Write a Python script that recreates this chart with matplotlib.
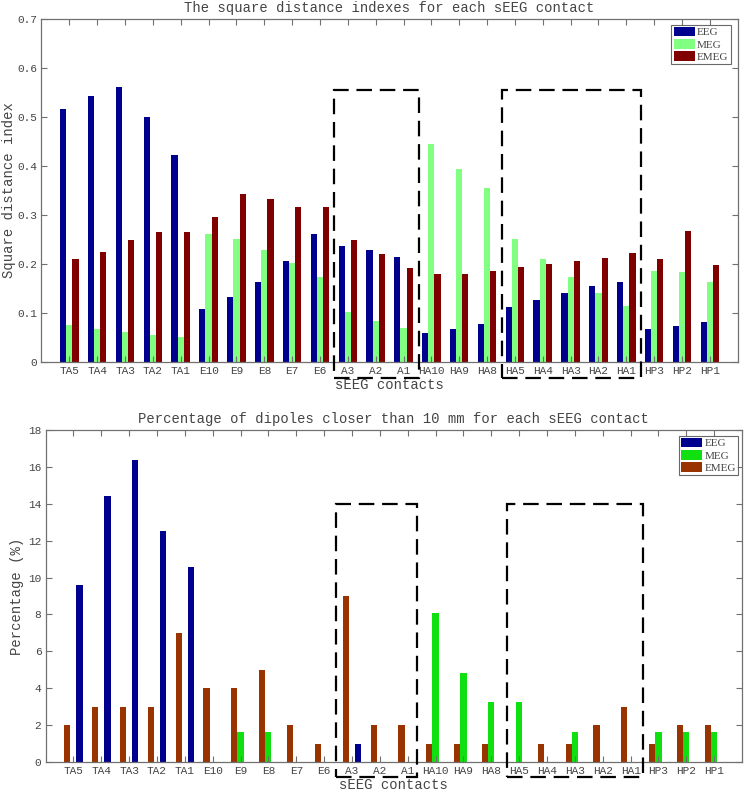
import matplotlib
matplotlib.use("Agg")
import matplotlib.pyplot as plt
from matplotlib.patches import Rectangle, Patch
import numpy as np

contacts = ["TA5", "TA4", "TA3", "TA2", "TA1", "E10", "E9", "E8", "E7", "E6",
            "A3", "A2", "A1", "HA10", "HA9", "HA8", "HA5", "HA4", "HA3", "HA2",
            "HA1", "HP3", "HP2", "HP1"]

# Square distance index
sdi_eeg = [0.516, 0.543, 0.561, 0.500, 0.422, 0.108, 0.133, 0.164, 0.207, 0.261,
           0.236, 0.229, 0.214, 0.059, 0.067, 0.077, 0.112, 0.127, 0.141, 0.155,
           0.163, 0.067, 0.074, 0.082]
sdi_meg = [0.076, 0.067, 0.062, 0.056, 0.050, 0.261, 0.251, 0.229, 0.201, 0.174,
           0.102, 0.084, 0.070, 0.445, 0.394, 0.356, 0.251, 0.210, 0.174, 0.141,
           0.115, 0.186, 0.184, 0.163]
sdi_emeg = [0.211, 0.225, 0.249, 0.265, 0.266, 0.296, 0.343, 0.332, 0.317, 0.316,
            0.249, 0.221, 0.192, 0.179, 0.179, 0.185, 0.194, 0.200, 0.206, 0.212,
            0.222, 0.210, 0.268, 0.197]

# Percentage of dipoles closer than 10 mm
pct_eeg = [9.6, 14.4, 16.35, 12.5, 10.6, 0, 0, 0, 0, 0,
           0.96, 0, 0, 0, 0, 0, 0, 0, 0, 0,
           0, 0, 0, 0]
pct_meg = [0, 0, 0, 0, 0, 0, 1.61, 1.61, 0, 0,
           0, 0, 0, 8.06, 4.84, 3.23, 3.23, 0, 1.61, 0,
           0, 1.61, 1.61, 1.61]
pct_emeg = [2, 3, 3, 3, 7, 4, 4, 5, 2, 1,
            9, 2, 2, 1, 1, 1, 0, 1, 1, 2,
            3, 1, 2, 2]

series_names = ["EEG", "MEG", "EMEG"]

# dashed highlight boxes (x0, x1) in category units
boxes_top = [(10.49, 13.54), (16.53, 21.53)]
boxes_bot = [(10.43, 13.35), (16.57, 21.44)]

MONO = ["Liberation Mono", "DejaVu Sans Mono"]
SERIF = ["Liberation Serif", "DejaVu Serif"]
TXT = "#444444"
SPINE = "#707070"

fig = plt.figure(figsize=(7.45, 7.94), dpi=100)
ax1 = fig.add_axes([0.0557, 0.5441, 0.9345, 0.4320])
ax2 = fig.add_axes([0.0611, 0.0403, 0.9349, 0.4181])

x = np.arange(1, len(contacts) + 1)
w = 0.222


def style(ax, ymax, ystep, yfmt):
    ax.set_xlim(0, 25)
    ax.set_ylim(0, ymax)
    ax.set_xticks(x)
    ax.set_xticklabels(contacts, fontfamily=MONO, fontsize=8, color=TXT)
    yt = np.arange(0, ymax + ystep / 2, ystep)
    ax.set_yticks(yt)
    ax.set_yticklabels([yfmt(v) for v in yt], fontfamily=MONO, fontsize=8, color=TXT)
    ax.tick_params(direction="in", top=True, right=True, length=4, width=0.8,
                   color=SPINE, pad=3)
    for s in ax.spines.values():
        s.set_color(SPINE)
        s.set_linewidth(0.9)


def boxes(ax, spans, ytop, ybot):
    for x0, x1 in spans:
        r = Rectangle((x0, ybot), x1 - x0, ytop - ybot, fill=False,
                      edgecolor="black", linewidth=1.6,
                      linestyle=(0, (7, 3.5)), clip_on=False, zorder=5)
        ax.add_patch(r)


def legend(ax, colors, anchor):
    h = [Patch(facecolor=c, edgecolor="none") for c in colors]
    leg = ax.legend(h, series_names, loc="upper right", bbox_to_anchor=anchor,
                    prop={"family": SERIF, "size": 8}, frameon=True, fancybox=False,
                    edgecolor="#444444", borderpad=0.2, labelspacing=0.15,
                    handlelength=1.9, handleheight=0.95, handletextpad=0.2,
                    borderaxespad=0.2)
    leg.get_frame().set_linewidth(0.8)
    for t in leg.get_texts():
        t.set_color(TXT)


# ---- top chart ----
c_top = ["#00008f", "#80ff80", "#800000"]
ax1.bar(x - w, sdi_eeg, w, color=c_top[0], linewidth=0)
ax1.bar(x, sdi_meg, w, color=c_top[1], linewidth=0)
ax1.bar(x + w, sdi_emeg, w, color=c_top[2], linewidth=0)
style(ax1, 0.7, 0.1, lambda v: "0" if v == 0 else f"{v:.1f}")
ax1.set_title("The square distance indexes for each sEEG contact",
              fontfamily=MONO, fontsize=10, color=TXT, pad=5)
ax1.set_xlabel("sEEG contacts", fontfamily=MONO, fontsize=10, color=TXT, labelpad=1)
ax1.set_ylabel("Square distance index", fontfamily=MONO, fontsize=10, color=TXT, labelpad=1)
boxes(ax1, boxes_top, 0.556, -0.033)
legend(ax1, c_top, (0.993, 0.99))

# ---- bottom chart ----
c_bot = ["#00008f", "#10e010", "#993300"]
ax2.bar(x + w, pct_eeg, w, color=c_bot[0], linewidth=0)
ax2.bar(x, pct_meg, w, color=c_bot[1], linewidth=0)
ax2.bar(x - w, pct_emeg, w, color=c_bot[2], linewidth=0)
style(ax2, 18, 2, lambda v: f"{int(v)}")
ax2.set_title("Percentage of dipoles closer than 10 mm for each sEEG contact",
              fontfamily=MONO, fontsize=10, color=TXT, pad=5)
ax2.set_xlabel("sEEG contacts", fontfamily=MONO, fontsize=10, color=TXT, labelpad=1)
ax2.set_ylabel("Percentage (%)", fontfamily=MONO, fontsize=10, color=TXT, labelpad=3)
boxes(ax2, boxes_bot, 14.0, -0.84)
legend(ax2, c_bot, (0.9975, 0.99))

fig.savefig("out.png", dpi=100)
